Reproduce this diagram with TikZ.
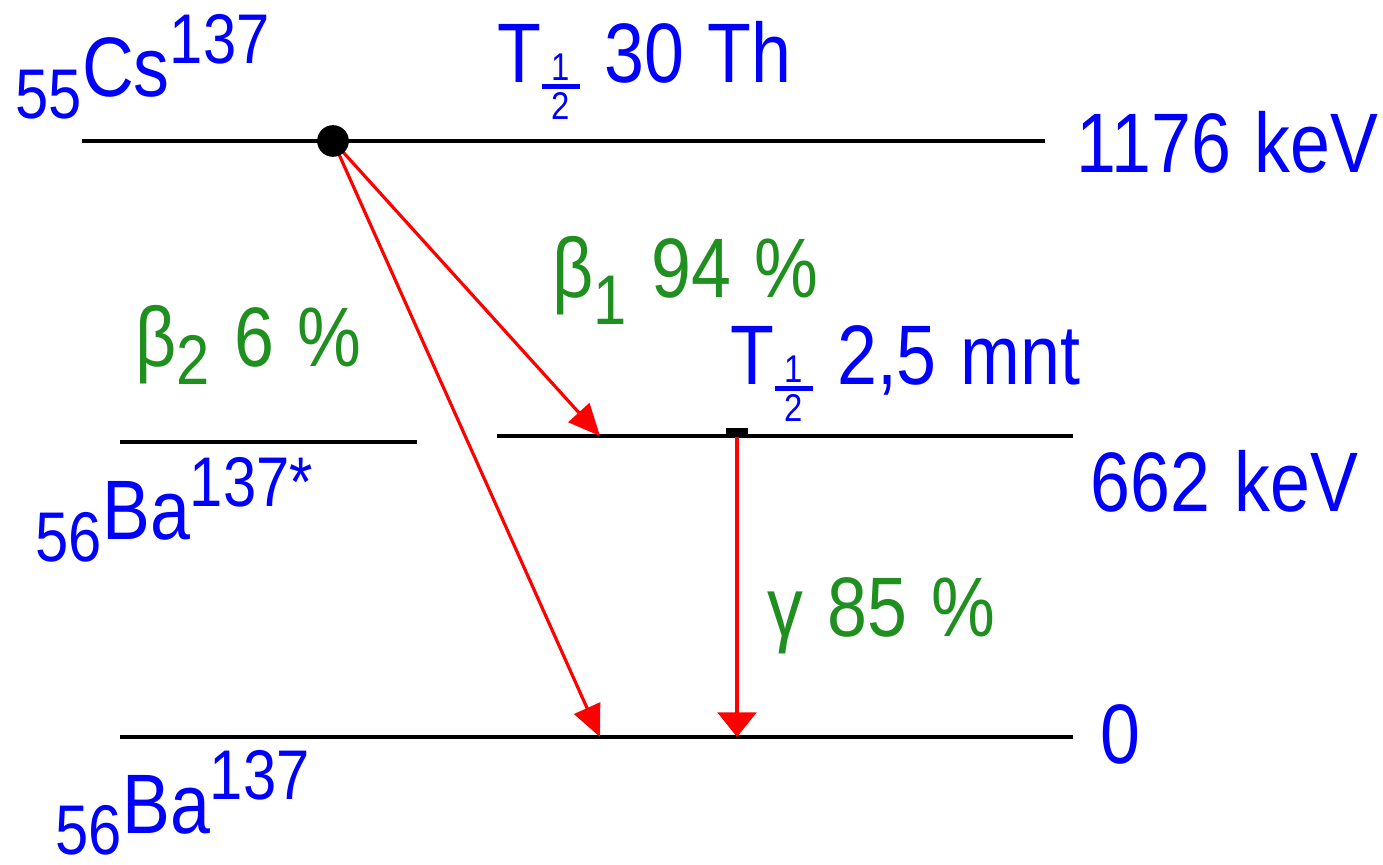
\documentclass[tikz,border=0pt]{standalone}
\usepackage{fontspec}
\setmainfont{Liberation Sans}[FakeStretch=0.85,WordSpace=1.2]
\usepackage{tikz}
\usetikzlibrary{arrows.meta}
\definecolor{labelblue}{HTML}{0000FF}
\definecolor{ratiogreen}{HTML}{1F8F1F}
\definecolor{decayred}{HTML}{FF0000}
\newcommand{\mainsz}{\fontsize{24}{28}\selectfont}
\newcommand{\smallsz}{\fontsize{20}{24}\selectfont}
\newcommand{\nuc}[3]{\raisebox{-6pt}{\smallsz #1}#2\raisebox{9.5pt}{\smallsz #3}}
\newcommand{\idx}[2][6pt]{\raisebox{-#1}{\smallsz #2}}
\newcommand{\halflife}{\raisebox{-10.5pt}{\vbox{\offinterlineskip
  \fontsize{11}{11}\selectfont
  \halign{\hfil##\hfil\cr 1\cr\noalign{\kern0.8pt}\rule{11pt}{1.4pt}\cr
    \noalign{\kern1.2pt}2\cr}}}}
\tikzset{
  level/.style       = {black, line width=1.2pt},
  level label/.style = {labelblue, font=\mainsz, inner sep=0pt, anchor=base west},
  ratio label/.style = {ratiogreen, font=\mainsz, inner sep=0pt, anchor=base west},
  beta/.style        = {decayred, line width=0.9pt, -{Triangle[length=9pt,width=8pt]}},
  gamma/.style       = {decayred, line width=0.9pt, -{Triangle[length=7pt,width=11pt]}},
  parent dot/.style  = {circle, fill=black, inner sep=0pt, minimum size=9pt},
  state mark/.style  = {rectangle, fill=black, inner sep=0pt,
                        minimum width=6pt, minimum height=2.5pt},
}

\begin{document}
\begin{tikzpicture}[x=0.01cm, y=-0.01cm]
  \useasboundingbox (0,0) rectangle (1383,865);
  % energy levels
  \coordinate (cs left) at (82,141);
  \coordinate (cs right) at (1045,141);
  \coordinate (bax left) at (120,442);
  \coordinate (bax mid) at (417,442);
  \coordinate (bax gap) at (497,436);
  \coordinate (bax right) at (1073,436);
  \coordinate (ba left) at (120,737);
  \coordinate (ba right) at (1073,737);
  \draw[level] (cs left) -- (cs right);
  \draw[level] (bax left) -- (bax mid);
  \draw[level] (bax gap) -- (bax right);
  \draw[level] (ba left) -- (ba right);
  % transitions
  \coordinate (beta1 end) at (600,436);
  \coordinate (beta2 end) at (600,737);
  \coordinate (gamma end) at (737,737);
  \node[state mark] (bax mark) at (737,432) {};
  \draw[beta] (333,141) -- (beta1 end);
  \draw[beta] (333,141) -- (beta2 end);
  \draw[gamma] (bax mark) -- (gamma end);
  \node[parent dot] (cs dot) at (333,141) {};
  % labels
  \node[level label] (cs label) at (15,97) {\nuc{55}{Cs}{137}};
  \node[level label] (cs half) at (497,83) {T\halflife\ 30 Th};
  \node[level label] (cs energy) at (1076,173) {1176 keV};
  \node[ratio label] (beta1 label) at (552,298) {β\idx[7.5pt]{1} 94 \%};
  \node[ratio label] (beta2 label) at (135,367) {β\idx[5pt]{2} 6 \%};
  \node[level label] (bax half) at (730,385) {T\halflife\ 2,5 mnt};
  \node[level label] (bax energy) at (1090,512) {662 keV};
  \node[level label] (bax label) at (35,540) {\nuc{56}{Ba}{137*}};
  \node[ratio label] (gamma label) at (767,637) {γ 85 \%};
  \node[level label] (ba energy) at (1100,763) {0};
  \node[level label] (ba label) at (55,833) {\nuc{56}{Ba}{137}};
\end{tikzpicture}
\end{document}
